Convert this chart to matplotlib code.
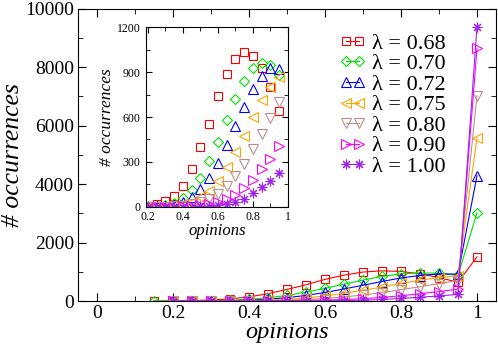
import numpy as np
import matplotlib
matplotlib.use("Agg")
import matplotlib.pyplot as plt
from matplotlib.ticker import MultipleLocator

plt.rcParams['font.family'] = ['Liberation Serif', 'DejaVu Serif']
plt.rcParams['mathtext.fontset'] = 'stix'

x_all = [0.15, 0.20, 0.25, 0.30, 0.35, 0.40, 0.45, 0.50, 0.55, 0.60,
         0.65, 0.70, 0.75, 0.80, 0.85, 0.90, 0.95, 1.00]

labels = ["λ = 0.68", "λ = 0.70", "λ = 0.72", "λ = 0.75",
          "λ = 0.80", "λ = 0.90", "λ = 1.00"]

y068 = [0, 5, 15, 35, 70, 140, 250, 396, 555, 740, 885, 990, 1033, 1010, 930, 803, 640, 1512]
y070 = [0, 1, 4, 10, 25, 56, 111, 189, 305, 433, 578, 718, 840, 927, 962, 947, 880, 3014]
y072 = [1, 2, 5, 12, 30, 63, 116, 189, 293, 411, 540, 667, 789, 871, 927, 918, 4287]
y075 = [0, 1, 2, 6, 15, 33, 62, 105, 173, 263, 365, 475, 602, 711, 800, 867, 5587]
y080 = [0, 0, 1, 3, 7, 15, 30, 52, 85, 140, 207, 285, 389, 489, 596, 700, 7024]
y090 = [0, 0, 0, 1, 2, 5, 10, 18, 30, 50, 78, 125, 178, 249, 322, 405, 8645]
y100 = [0, 0, 0, 0, 0, 1, 2, 5, 9, 17, 29, 53, 89, 129, 173, 227, 9384]

series = [y068, y070, y072, y075, y080, y090, y100]
colors = ['#ff0000', '#00e000', '#0000ff', '#ffa500', '#bc8f8f', '#ff00ff', '#a020f0']
markers = ['s', 'D', '^', '<', 'v', '>', (8, 2, 0)]
msizes = [6, 5, 6.5, 6.5, 6.5, 6.5, 7]

fig = plt.figure(figsize=(4.98, 3.48), dpi=100)
ax = fig.add_axes([78/498, 1-301/348, 418/498, (301-8.7)/348])

for ys, c, m, ms, lab in zip(series, colors, markers, msizes, labels):
    xs = x_all[len(x_all) - len(ys):]
    ax.plot(xs, ys, color=c, marker=m, ms=ms, mfc='none', mec=c, mew=0.8,
            lw=0.8, label=lab)

ax.set_xlim(-0.05, 1.05)
ax.set_ylim(0, 10000)
ax.xaxis.set_major_locator(MultipleLocator(0.2))
ax.xaxis.set_minor_locator(MultipleLocator(0.1))
ax.yaxis.set_major_locator(MultipleLocator(2000))
ax.yaxis.set_minor_locator(MultipleLocator(1000))
ax.set_xticks([0, 0.2, 0.4, 0.6, 0.8, 1.0])
ax.set_xticklabels(['0', '0.2', '0.4', '0.6', '0.8', '1'])
ax.tick_params(which='both', direction='in', top=True, right=True, labelsize=14, pad=3)
ax.tick_params(which='major', length=6)
ax.tick_params(which='minor', length=3.5)
ax.set_xlabel('opinions', fontsize=17.5, style='italic', labelpad=0)
ax.set_ylabel('# occurrences', fontsize=18.5, style='italic', labelpad=1)

leg = ax.legend(loc='upper left', bbox_to_anchor=(328/498, 1-22/348),
                bbox_transform=fig.transFigure, frameon=False, fontsize=16,
                handlelength=1.2, handletextpad=0.3, labelspacing=0.0,
                borderpad=0, numpoints=2)

# inset
axi = fig.add_axes([146/498, 1-206.7/348, 142/498, 179.4/348])
for ys, c, m, ms in zip(series, colors, markers, msizes):
    xs = x_all[len(x_all) - len(ys):]
    axi.plot(xs, ys, ls='none', marker=m, ms=ms, mfc='none', mec=c, mew=0.8)
axi.set_xlim(0.19, 1.0)
axi.set_ylim(0, 1200)
axi.xaxis.set_major_locator(MultipleLocator(0.2))
axi.xaxis.set_minor_locator(MultipleLocator(0.1))
axi.yaxis.set_major_locator(MultipleLocator(300))
axi.yaxis.set_minor_locator(MultipleLocator(150))
axi.set_xticks([0.2, 0.4, 0.6, 0.8, 1.0])
axi.set_xticklabels(['0.2', '0.4', '0.6', '0.8', '1'])
axi.tick_params(which='both', direction='in', top=True, right=True, labelsize=8.5)
axi.tick_params(axis='x', pad=3)
axi.tick_params(axis='y', pad=4)
axi.tick_params(which='major', length=4)
axi.tick_params(which='minor', length=3)
axi.set_xlabel('opinions', fontsize=12, style='italic', labelpad=0)
axi.set_ylabel('# occurrences', fontsize=12.5, style='italic', labelpad=1)

fig.savefig('out.png', dpi=100)
